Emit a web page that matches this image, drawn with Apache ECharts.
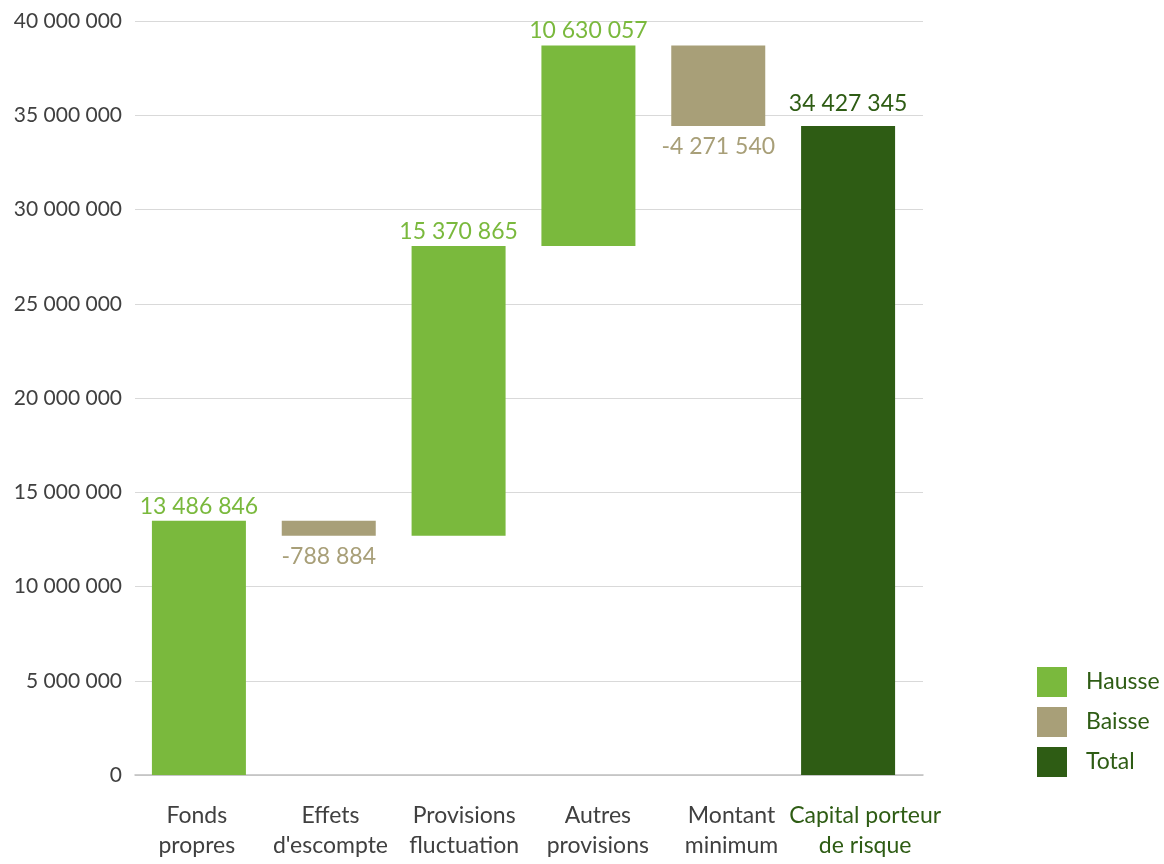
<!DOCTYPE html>
<html>
<head>
<meta charset="utf-8">
<script src="https://cdn.jsdelivr.net/npm/echarts@6/dist/echarts.min.js"></script>
<style>
  html, body { margin: 0; padding: 0; background: #fff; }
  #waterfallChart { width: 1164px; height: 864px; }
</style>
</head>
<body>
<div id="waterfallChart"></div>
<script>
// catégories et montants
const categories = ['Fonds\npropres', 'Effets\nd\'escompte', 'Provisions\nfluctuation', 'Autres\nprovisions', 'Montant\nminimum', 'Capital porteur\nde risque'];
const hausse = [13486846, '-', 15370865, 10630057, '-', '-'];
const baisse = ['-', 788884, '-', '-', 4271540, '-'];
const total = ['-', '-', '-', '-', '-', 34427345];
const yTicks = [0, 5000000, 10000000, 15000000, 20000000, 25000000, 30000000, 35000000, 40000000];

// base invisible du waterfall
const base = [];
let running = 0;
for (let i = 0; i < categories.length; i++) {
    if (hausse[i] !== '-') { base.push(running); running += hausse[i]; }
    else if (baisse[i] !== '-') { running -= baisse[i]; base.push(running); }
    else { base.push(0); }
}

const fmt = v => String(Math.round(v)).replace(/\B(?=(\d{3})+(?!\d))/g, ' ');

const C_UP = '#7ab93d', C_DOWN = '#a89f78', C_TOT = '#2e5c14';
const FONT = 'Lato, "Open Sans", sans-serif';
const yMin = yTicks[0], yMax = yTicks[yTicks.length - 1], yStep = yTicks[1] - yTicks[0];

let chart = echarts.init(document.getElementById('waterfallChart'));

chart.setOption({
    animation: false,
    textStyle: { fontFamily: FONT },
    // grille 0 : quadrillage, grille 1 : barres, grille 2 : libellés (décalages façon Excel)
    grid: [
        { left: 135, right: 241, top: 21, bottom: 89 },
        { left: 134, right: 251, top: 21, bottom: 89 },
        { left: 130, right: 232, top: 21, bottom: 89 }
    ],
    legend: {
        data: ['Hausse', 'Baisse', 'Total'],
        orient: 'vertical',
        left: 1032,
        top: 662,
        itemWidth: 30,
        itemHeight: 30,
        itemGap: 10,
        icon: 'rect',
        textStyle: { color: C_TOT, fontSize: 23, fontFamily: FONT, padding: [0, 0, 0, 14] }
    },
    xAxis: [
        {
            type: 'category',
            gridIndex: 0,
            data: categories,
            axisLine: { lineStyle: { color: '#bfbfbf', width: 1.5 } },
            axisTick: { show: false },
            axisLabel: { show: false }
        },
        {
            type: 'category',
            gridIndex: 1,
            data: categories,
            show: false
        },
        {
            type: 'category',
            gridIndex: 2,
            data: categories,
            axisLine: { show: false },
            axisTick: { show: false },
            axisLabel: {
                interval: 0,
                margin: 26,
                fontSize: 23,
                lineHeight: 30,
                fontFamily: FONT,
                color: (v, i) => i === categories.length - 1 ? C_TOT : '#404040'
            }
        }
    ],
    yAxis: [
        {
            type: 'value',
            gridIndex: 0,
            min: yMin, max: yMax, interval: yStep,
            axisLine: { show: false },
            axisTick: { show: false },
            splitLine: { lineStyle: { color: '#d9d9d9', width: 1 } },
            axisLabel: { margin: 13, fontSize: 21, color: '#404040', fontFamily: FONT, formatter: v => fmt(v) }
        },
        {
            type: 'value',
            gridIndex: 1,
            min: yMin, max: yMax, interval: yStep,
            show: false,
            splitLine: { show: false }
        },
        {
            type: 'value',
            gridIndex: 2,
            min: yMin, max: yMax, interval: yStep,
            show: false,
            splitLine: { show: false }
        }
    ],
    series: [
        {
            name: 'base', type: 'bar', stack: 'w', data: base, xAxisIndex: 1, yAxisIndex: 1,
            itemStyle: { color: 'transparent' }, silent: true, barWidth: 94
        },
        {
            name: 'Hausse', type: 'bar', stack: 'w', data: hausse, xAxisIndex: 1, yAxisIndex: 1,
            itemStyle: { color: C_UP },
            label: { show: true, position: 'top', distance: 3, fontSize: 23, color: C_UP, fontFamily: FONT, formatter: p => fmt(p.value) }
        },
        {
            name: 'Baisse', type: 'bar', stack: 'w', data: baisse, xAxisIndex: 1, yAxisIndex: 1,
            itemStyle: { color: C_DOWN },
            label: { show: true, position: 'bottom', distance: 9, fontSize: 23, color: C_DOWN, fontFamily: FONT, formatter: p => '-' + fmt(p.value) }
        },
        {
            name: 'Total', type: 'bar', stack: 'w', data: total, xAxisIndex: 1, yAxisIndex: 1,
            itemStyle: { color: C_TOT },
            label: { show: true, position: 'top', distance: 11, fontSize: 23, color: C_TOT, fontFamily: FONT, formatter: p => fmt(p.value) }
        }
    ]
});
</script>
</body>
</html>
